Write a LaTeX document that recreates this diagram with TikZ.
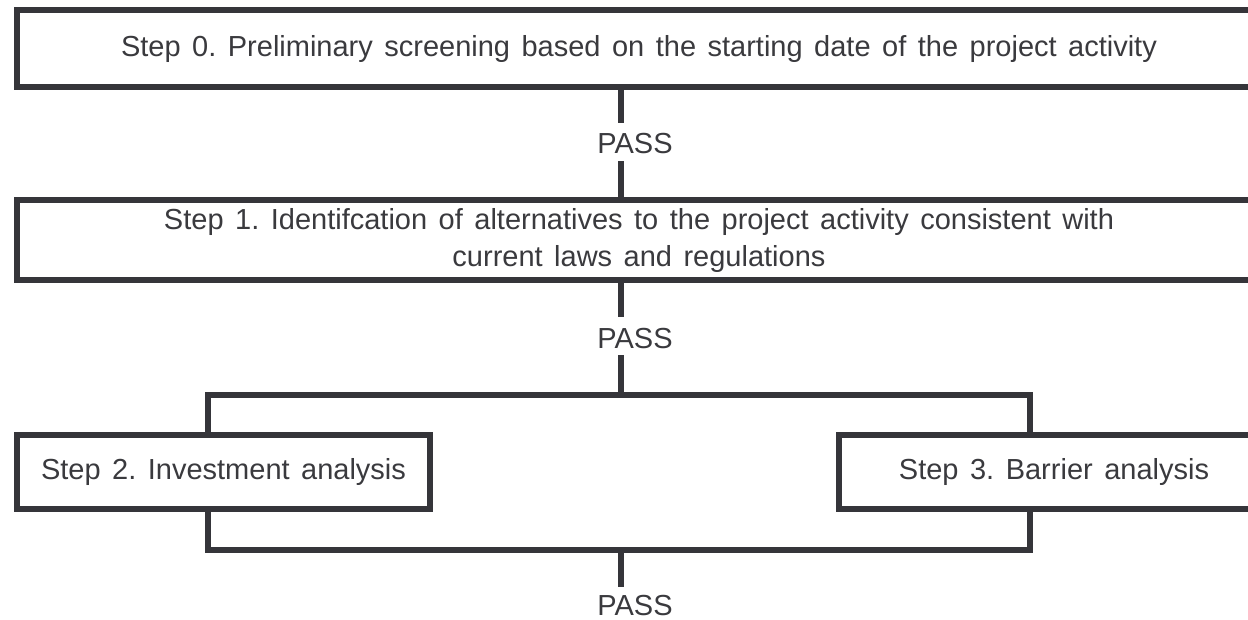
\documentclass[tikz,border=0pt]{standalone}
\usepackage{fontspec}
\setmainfont{Liberation Sans}
\definecolor{linec}{HTML}{35353A}
\definecolor{textc}{HTML}{3A3A3E}
\newcommand{\diagfont}{\fontsize{29}{37}\selectfont\frenchspacing\spaceskip=11.5pt\xspaceskip=11.5pt\relax}
\begin{document}
\begin{tikzpicture}[x=1pt,y=-1pt,
  stepbox/.style={draw=linec, line width=6pt, rectangle, inner sep=0pt, outer sep=0pt, fill=white,
    text=textc, font=\diagfont, align=center},
  passlbl/.style={text=textc, font=\diagfont, inner sep=0pt},
  conn/.style={draw=linec, line width=6pt}]
\useasboundingbox (0,0) rectangle (1248,619);
\clip (0,0) rectangle (1248,619);
\node[stepbox, minimum width=1244pt, minimum height=77pt] (b0) at (639,48.5)
  {Step 0. Preliminary screening based on the starting date of the project activity};
\node[stepbox, minimum width=1244pt, minimum height=80pt] (b1) at (639,240)
  {Step 1. Identifcation of alternatives to the project activity consistent with\\current laws and regulations};
\node[stepbox, minimum width=413pt, minimum height=74pt] (b2) at (223.5,472)
  {Step 2. Investment analysis};
\node[stepbox, minimum width=430pt, minimum height=74pt] (b3) at (1054,472)
  {Step 3. Barrier analysis};
\node[passlbl] (p1) at (635,144) {PASS};
\node[passlbl] (p2) at (635,339) {PASS};
\node[passlbl] (p3) at (635,606) {PASS};
\coordinate (xm) at (621,0);
\coordinate (xl) at (208,0);
\coordinate (xr) at (1030,0);
\coordinate (t1) at (621,123);
\coordinate (u1) at (621,161);
\coordinate (t2) at (621,317);
\coordinate (u2) at (621,355);
\coordinate (top) at (621,395);
\coordinate (bot) at (621,550);
\coordinate (t3) at (621,587);
\draw[conn] (b0.south -| xm) -- (t1);
\draw[conn] (u1) -- (b1.north -| xm);
\draw[conn] (b1.south -| xm) -- (t2);
\draw[conn] (u2) -- (top);
\draw[conn] (b2.north -| xl) -- (top -| xl) -- (top -| xr) -- (b3.north -| xr);
\draw[conn] (b2.south -| xl) -- (bot -| xl) -- (bot -| xr) -- (b3.south -| xr);
\draw[conn] (bot) -- (t3);
\end{tikzpicture}
\end{document}
